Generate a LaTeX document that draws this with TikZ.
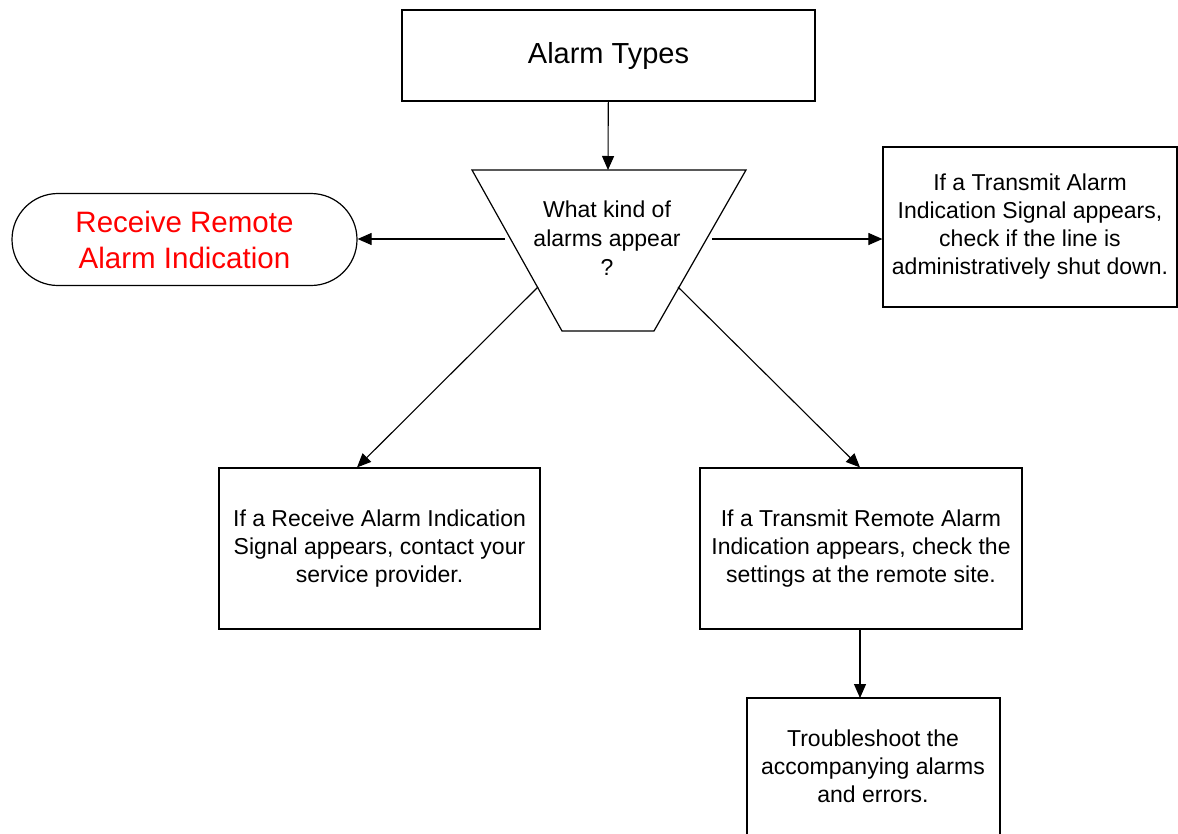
\documentclass[tikz,border=0pt]{standalone}
\usepackage{fontspec}
\setmainfont{Liberation Sans}
\usetikzlibrary{arrows.meta}

\tikzset{
  box/.style={draw, line width=1.2pt, align=center, inner sep=0pt,
    font=\fontsize{23}{28}\selectfont},
  link/.style={line width=1.1pt, -{Triangle[length=14pt,width=12pt]}},
}

\begin{document}
\begin{tikzpicture}[x=1pt,y=-1pt]
\useasboundingbox (0,0) rectangle (1178,833);

\node[box, minimum width=413pt, minimum height=91pt,
  font=\fontsize{29}{34}\selectfont] (types) at (608.5,55.5) {Alarm Types};

% decision
\draw[line width=1.2pt] (472,170) -- (746,170) -- (654,331) -- (562,331) -- cycle;
\node[align=center, font=\fontsize{23}{29}\selectfont] (ask) at (607,238)
  {What kind of\\alarms appear\\?};
\coordinate (asktop) at (608,170);
\coordinate (askl) at (505,239);
\coordinate (askr) at (712,239);
\coordinate (askbl) at (538,287);
\coordinate (askbr) at (678,287);

\node[draw, line width=1.2pt, rounded corners=46pt, minimum width=345pt,
  minimum height=92pt, align=center, text=red,
  font=\fontsize{29.5}{36}\selectfont] (rrai) at (184.5,239.5)
  {Receive Remote\\Alarm Indication};

\node[box, minimum width=294pt, minimum height=160pt] (tais) at (1030,227)
  {If a Transmit Alarm\\Indication Signal appears,\\check if the line is\\administratively shut down.};

\node[box, minimum width=321pt, minimum height=161pt] (rais) at (379.5,548.5)
  {If a Receive Alarm Indication\\Signal appears, contact your\\service provider.};

\node[box, minimum width=322pt, minimum height=161pt] (trai) at (861,548.5)
  {If a Transmit Remote Alarm\\Indication appears, check the\\settings at the remote site.};

\draw[line width=1.2pt] (747,860) |- (1000,698) -- (1000,860);
\node[align=center, font=\fontsize{23}{28}\selectfont] (trouble) at (873,766)
  {Troubleshoot the\\accompanying alarms\\and errors.};
\coordinate (troubletop) at (860,698);

\draw[link] (types) -- (asktop);
\draw[link] (askl) -- (rrai.east |- askl);
\draw[link] (askr) -- (tais.west |- askr);
\draw[link] (askbl) -- (rais.north -| 357,0);
\draw[link] (askbr) -- (trai.north -| 860,0);
\draw[link] (trai.south -| 860,0) -- (troubletop);
\end{tikzpicture}
\end{document}
